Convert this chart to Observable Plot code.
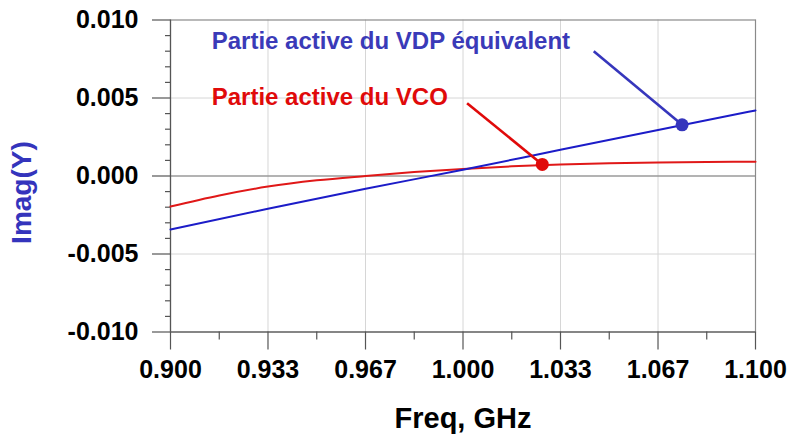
<!DOCTYPE html>
<html>
<head>
<meta charset="utf-8">
<script src="https://cdn.jsdelivr.net/npm/d3@7"></script>
<script src="https://cdn.jsdelivr.net/npm/@observablehq/plot@0.6"></script>
<style>
  html, body { margin: 0; padding: 0; background: #fff; }
  svg { font-family: "Liberation Sans", Arial, sans-serif; }
</style>
</head>
<body>
<div id="chart"></div>
<script>
// ---- data ----
const vdpFreq = [0.9, 0.9333, 0.9667, 1.0, 1.0333, 1.0667, 1.1];
const vdpImag = [-0.00343, -0.00210, -0.00082, 0.00040, 0.00168, 0.00295, 0.00420];

const vcoFreq = [0.9, 0.9167, 0.9333, 0.95, 0.9667, 0.9833, 1.0, 1.0167, 1.0333, 1.05, 1.0667, 1.0833, 1.1];
const vcoImag = [-0.00196, -0.00125, -0.00068, -0.00028, 0.00000, 0.00025, 0.00045, 0.00062, 0.00074, 0.00082, 0.00087, 0.00090, 0.00091];

const markerFreq = [1.0749, 1.0271];
const markerImag = [0.00328, 0.00074];
const markerSeries = ["vdp", "vco"];

const labelTexts = ["Partie active du VDP équivalent", "Partie active du VCO"];
const labelFreq = [0.9141, 0.9141];
const labelImag = [0.00815, 0.00456];
const leaderFreq = [1.0447, 1.0014];
const leaderImag = [0.0080, 0.00467];

const xTicks = [0.9, 0.93333, 0.96667, 1.0, 1.03333, 1.06667, 1.1];
const xTickLabels = ["0.900", "0.933", "0.967", "1.000", "1.033", "1.067", "1.100"];
const xMinorTicks = [0.91667, 0.95, 0.98333, 1.01667, 1.05, 1.08333];
const yTicks = [-0.01, -0.005, 0, 0.005, 0.01];
const yTickLabels = ["-0.010", "-0.005", "0.000", "0.005", "0.010"];
const yMinorTicks = [-0.009, -0.008, -0.007, -0.006, -0.004, -0.003, -0.002, -0.001,
                     0.001, 0.002, 0.003, 0.004, 0.006, 0.007, 0.008, 0.009];

const xTitle = "Freq, GHz";
const yTitle = "Imag(Y)";
const yTitlePos = [-0.00106];

// ---- tables built from arrays ----
const vdp = vdpFreq.map((f, i) => ({f, v: vdpImag[i]}));
const vco = vcoFreq.map((f, i) => ({f, v: vcoImag[i]}));
const markers = markerFreq.map((f, i) => ({f, v: markerImag[i], s: markerSeries[i]}));
const labels = labelTexts.map((t, i) => ({t, f: labelFreq[i], v: labelImag[i], s: markerSeries[i]}));
const leaders = leaderFreq.map((f, i) => ({f1: f, v1: leaderImag[i], f2: markerFreq[i], v2: markerImag[i], s: markerSeries[i]}));
const xt = xTicks.map((d, i) => ({d, t: xTickLabels[i]}));
const yt = yTicks.map((d, i) => ({d, t: yTickLabels[i]}));

const blueLine = "#1c1cc8";
const blueMark = "#3636bc";
const redLine = "#e01818";
const redMark = "#e00a0a";
const col = s => s === "vdp" ? blueMark : redMark;

const chart = Plot.plot({
  width: 787,
  height: 434,
  marginLeft: 170,
  marginRight: 32,
  marginTop: 19.5,
  marginBottom: 102.5,
  x: {domain: [0.9, 1.1], axis: null},
  y: {domain: [-0.01, 0.01], axis: null},
  style: {fontFamily: "Liberation Sans, Arial, sans-serif", background: "#fff"},
  marks: [
    // grid
    Plot.ruleX(xTicks, {stroke: "#d6d6d6", strokeWidth: 1}),
    Plot.ruleY([-0.005, 0.005], {stroke: "#d6d6d6", strokeWidth: 1}),
    Plot.ruleY([0], {stroke: "#9a9a9a", strokeWidth: 1.5}),
    Plot.frame({stroke: "#8a8a8a", strokeWidth: 1.2}),
    Plot.ruleX([0.9], {stroke: "#555", strokeWidth: 1.2}),
    Plot.ruleY([-0.01], {stroke: "#555", strokeWidth: 1.2}),
    // ticks
    Plot.axisX(xTicks, {anchor: "bottom", tickSize: 18, tickFormat: () => "", stroke: "#555", strokeWidth: 1.2}),
    Plot.axisX(xMinorTicks, {anchor: "bottom", tickSize: 8, tickFormat: () => "", stroke: "#555", strokeWidth: 1.2}),
    Plot.axisY(yTicks, {anchor: "left", tickSize: 18, tickFormat: () => "", stroke: "#555", strokeWidth: 1.2}),
    Plot.axisY(yMinorTicks, {anchor: "left", tickSize: 5, tickFormat: () => "", stroke: "#555", strokeWidth: 1.2}),
    // tick labels
    Plot.text(xt, {x: "d", text: "t", frameAnchor: "bottom", dy: 38, lineAnchor: "middle",
      fontSize: 25, fontWeight: "bold", fill: "#000"}),
    Plot.text(yt, {y: "d", text: "t", frameAnchor: "left", dx: -32, textAnchor: "end", lineAnchor: "middle",
      fontSize: 25, fontWeight: "bold", fill: "#000"}),
    // titles
    Plot.text([xTitle], {frameAnchor: "bottom", dy: 86.5, textAnchor: "middle", lineAnchor: "middle",
      fontSize: 29, fontWeight: "bold", fill: "#000"}),
    Plot.text([yTitle], {y: yTitlePos, frameAnchor: "left", dx: -148, rotate: -90,
      textAnchor: "middle", lineAnchor: "middle",
      fontSize: 28, fontWeight: "bold", fill: "#3434bc"}),
    // data
    Plot.line(vco, {x: "f", y: "v", stroke: redLine, strokeWidth: 2, curve: "monotone-x"}),
    Plot.line(vdp, {x: "f", y: "v", stroke: blueLine, strokeWidth: 2, curve: "monotone-x"}),
    // annotations
    Plot.link(leaders, {x1: "f1", y1: "v1", x2: "f2", y2: "v2", stroke: d => col(d.s), strokeWidth: 2.6}),
    Plot.dot(markers, {x: "f", y: "v", r: 6.5, fill: d => col(d.s), stroke: "none"}),
    Plot.text(labels, {x: "f", y: "v", text: "t", textAnchor: "start", lineAnchor: "bottom",
      fontSize: 24, fontWeight: "bold", fill: d => d.s === "vdp" ? "#3a3ab8" : "#e00a0a"})
  ]
});
document.getElementById("chart").appendChild(chart);
</script>
</body>
</html>
